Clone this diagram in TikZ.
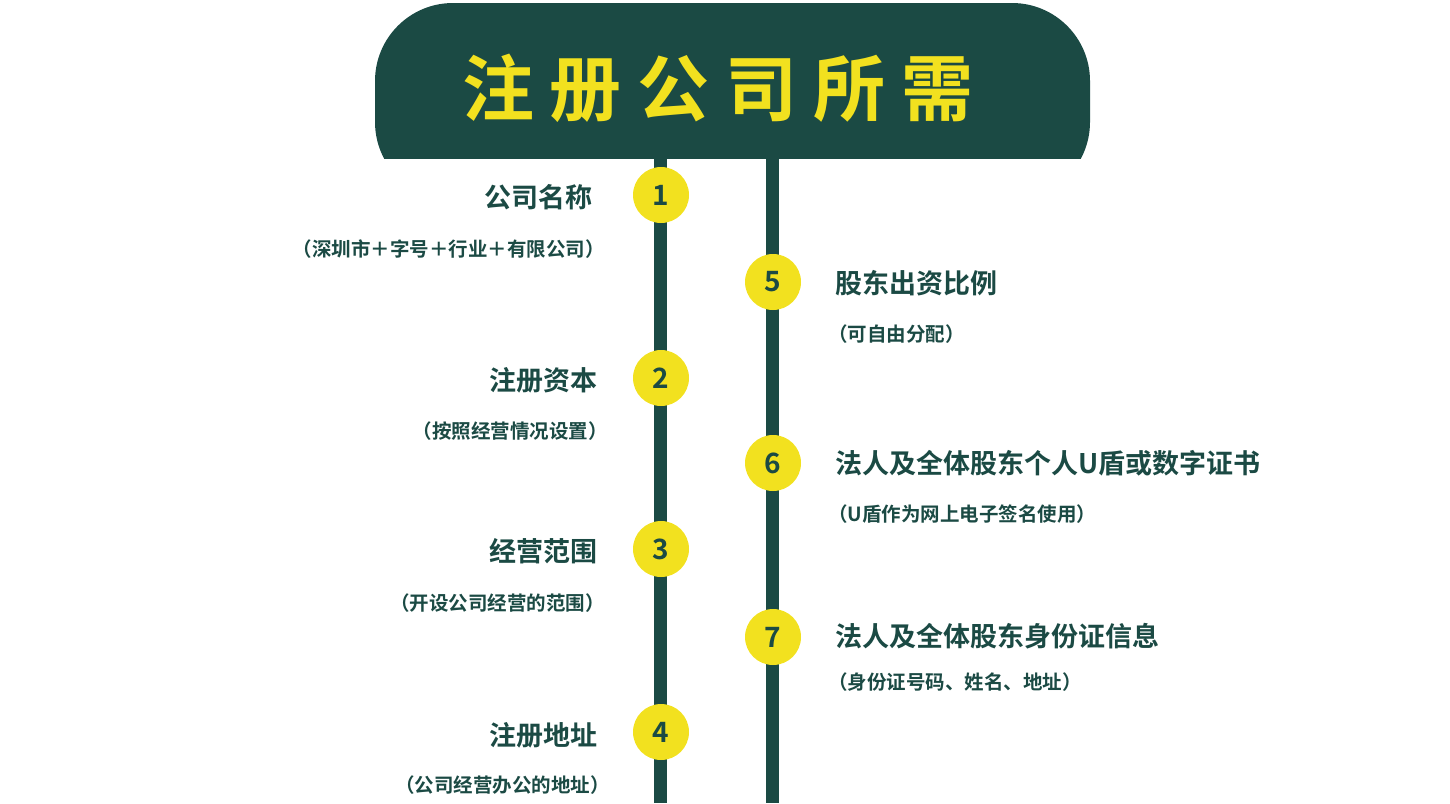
\documentclass[tikz,border=0pt]{standalone}
\usepackage{fontspec}
\newfontfamily\cjk{Noto Sans CJK SC}[BoldFont={* Bold}]
\definecolor{dg}{HTML}{1B4A44}
\definecolor{yl}{HTML}{F2E11F}
\begin{document}
\begin{tikzpicture}[x=1pt,y=-1pt,
  num/.style={circle,fill=yl,minimum size=56pt,inner sep=0pt,text=dg,font=\cjk\bfseries\fontsize{28}{30}\selectfont},
  hd/.style={text=dg,font=\cjk\bfseries\fontsize{27}{30}\selectfont,inner sep=0pt},
  sub/.style={text=dg,font=\cjk\bfseries\fontsize{19.5}{22}\selectfont,inner sep=0pt}]
\useasboundingbox (0,0) rectangle (1450,803);
\begin{scope}
\clip (0,0) rectangle (1450,158);
\fill[dg] (375,3) [rounded corners=78pt] rectangle (1090,200);
\end{scope}
\node[text=yl,font=\cjk\bfseries\fontsize{72}{80}\selectfont,inner sep=0pt] (title) at (718,88) {注\hspace{16pt}册\hspace{16pt}公\hspace{16pt}司\hspace{16pt}所\hspace{16pt}需};
\fill[dg] (654,158) rectangle (667,803);
\fill[dg] (766,158) rectangle (779,803);
\node[num] (n1) at (661,195) {1};
\node[num] (n2) at (661,378) {2};
\node[num] (n3) at (661,549) {3};
\node[num] (n4) at (661,732) {4};
\node[num] (n5) at (773,282) {5};
\node[num] (n6) at (773,463) {6};
\node[num] (n7) at (773,637) {7};
\node[hd,anchor=east] (h1) at (593,197) {公司名称};
\node[sub,anchor=east] (s1) at (605,249) {（深圳市＋字号＋行业＋有限公司）};
\node[hd,anchor=east] (h2) at (598,380) {注册资本};
\node[sub,anchor=east] (s2) at (608,431) {（按照经营情况设置）};
\node[hd,anchor=east] (h3) at (598,551) {经营范围};
\node[sub,anchor=east] (s3) at (605,603) {（开设公司经营的范围）};
\node[hd,anchor=east] (h4) at (598,735) {注册地址};
\node[sub,anchor=east] (s4) at (610,785) {（公司经营办公的地址）};
\node[hd,anchor=west] (h5) at (835,283) {股东出资比例};
\node[sub,anchor=west] (s5) at (828,334) {（可自由分配）};
\node[hd,anchor=west] (h6) at (835,463) {法人及全体股东个人U盾或数字证书};
\node[sub,anchor=west] (s6) at (828,514) {（U盾作为网上电子签名使用）};
\node[hd,anchor=west] (h7) at (835,636) {法人及全体股东身份证信息};
\node[sub,anchor=west] (s7) at (828,682) {（身份证号码、姓名、地址）};
\end{tikzpicture}
\end{document}
